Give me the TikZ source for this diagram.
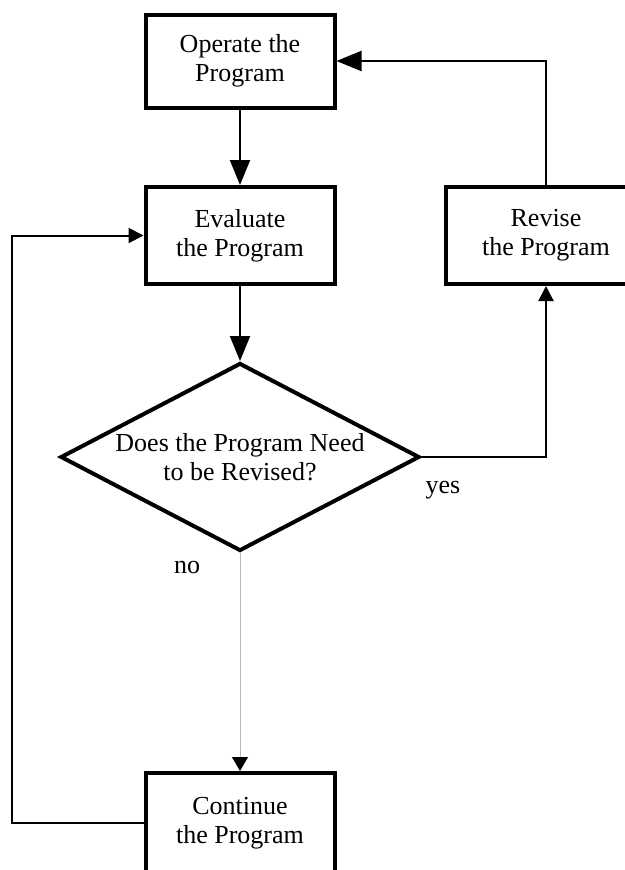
\documentclass[tikz,border=0pt]{standalone}
\usepackage{fontspec}
\setmainfont{Liberation Serif}
\usetikzlibrary{arrows.meta,shapes.geometric}
\begin{document}
\begin{tikzpicture}[x=1pt,y=-1pt,
  font=\fontsize{26}{29}\selectfont,
  box/.style={draw, line width=4pt, minimum width=189pt, align=center, inner sep=0pt},
  decision/.style={draw, line width=4pt, shape=diamond, aspect=1.91, minimum width=359pt, minimum height=188pt, inner sep=0pt, align=center},
  conn/.style={line width=2pt},
  bigarrow/.style={conn, -{Triangle[length=25pt,width=20pt]}},
  smallarrow/.style={conn, -{Triangle[length=15pt,width=15pt]}},
  greyarrow/.style={line width=1pt, draw=black!28, -{Triangle[length=14pt,width=16pt,color=black]}},
  lbl/.style={inner sep=0pt}
]
\useasboundingbox (0,0) rectangle (624,870);
\node[box, minimum height=93pt] (op) at (240,61) {Operate the\\Program};
\node[box, minimum height=97pt] (ev) at (240,235.5) {Evaluate\\the Program};
\node[box, minimum height=97pt, minimum width=200pt] (rev) at (546,235.5) {Revise\\the Program};
\node[decision] (dec) at (240,457) {Does the Program Need\\to be Revised?};
\node[box, minimum height=100pt] (cont) at (240,823) {Continue\\the Program};
\node[lbl] (yes) at (443,490) {yes};
\node[lbl] (no) at (187,567) {no};
\coordinate (lt) at (12,500);

\draw[bigarrow] (op.south) -- (ev.north);
\draw[bigarrow] (ev.south) -- (dec.north);
\draw[smallarrow] (dec.east) -| (rev.south);
\draw[bigarrow] (rev.north) |- (op.east);
\draw[greyarrow] (dec.south) -- (cont.north);
\draw[smallarrow] (cont.west) -| (lt) |- (ev.west);
\end{tikzpicture}
\end{document}
